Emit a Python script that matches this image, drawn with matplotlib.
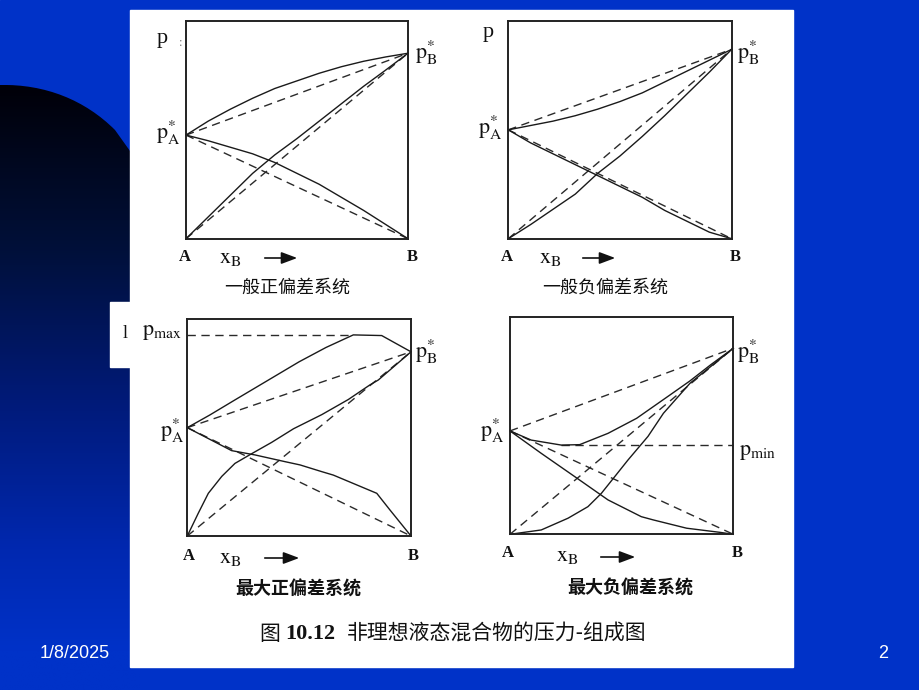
import matplotlib
matplotlib.use('Agg')
import matplotlib.pyplot as plt
import numpy as np
from matplotlib.path import Path
from matplotlib.patches import PathPatch, Rectangle

plt.rcParams['mathtext.fontset'] = 'stix'
plt.rcParams['font.family'] = ['Liberation Serif', 'Noto Sans CJK SC', 'DejaVu Sans']

W, H = 920, 690

# ---------------- data (composition x_B 0..1, pressure 0..1) ----------------
x_grid = [0.0, 0.1, 0.2, 0.3, 0.4, 0.5, 0.6, 0.7, 0.8, 0.9, 1.0]

# Panel 1: 一般正偏差系统
p1_pA, p1_pB = 0.476, 0.852
p1_total = [0.476, 0.54, 0.595, 0.645, 0.69, 0.725, 0.76, 0.79, 0.815, 0.835, 0.852]
p1_partA = [0.476, 0.45, 0.42, 0.39, 0.35, 0.30, 0.25, 0.19, 0.13, 0.065, 0.0]
p1_partB = [0.0, 0.10, 0.20, 0.30, 0.385, 0.46, 0.54, 0.62, 0.70, 0.775, 0.852]

# Panel 2: 一般负偏差系统
p2_pA, p2_pB = 0.50, 0.87
p2_total = [0.50, 0.52, 0.54, 0.565, 0.595, 0.63, 0.67, 0.72, 0.77, 0.82, 0.87]
p2_partA = [0.50, 0.44, 0.39, 0.34, 0.29, 0.24, 0.19, 0.13, 0.08, 0.03, 0.0]
p2_partB = [0.0, 0.065, 0.135, 0.205, 0.30, 0.38, 0.47, 0.565, 0.665, 0.765, 0.87]

# Panel 3: 最大正偏差系统
p3_pA, p3_pB, p3_pmax = 0.50, 0.85, 0.928
p3_upper_x = [0.0, 0.1, 0.213, 0.35, 0.5, 0.62, 0.742, 0.869, 1.0]
p3_upper_y = [0.50, 0.558, 0.628, 0.712, 0.804, 0.87, 0.928, 0.925, 0.85]
p3_rise_x = [0.0, 0.049, 0.094, 0.154, 0.213, 0.288, 0.377, 0.475, 0.601, 0.72, 0.816, 0.854, 1.0]
p3_rise_y = [0.0, 0.105, 0.197, 0.275, 0.335, 0.38, 0.432, 0.495, 0.56, 0.63, 0.697, 0.72, 0.85]
p3_fall_x = [0.0, 0.198, 0.303, 0.437, 0.504, 0.601, 0.653, 0.847, 0.906, 1.0]
p3_fall_y = [0.50, 0.394, 0.374, 0.343, 0.328, 0.297, 0.281, 0.197, 0.12, 0.0]
p3_pmax_end = 0.742

# Panel 4: 最大负偏差系统
p4_pA, p4_pB, p4_pmin = 0.475, 0.855, 0.412
p4_total_x = [0.0, 0.095, 0.23, 0.312, 0.439, 0.567, 0.716, 0.806, 0.9, 1.0]
p4_total_y = [0.475, 0.433, 0.41, 0.412, 0.464, 0.533, 0.64, 0.705, 0.78, 0.855]
p4_partA_x = [0.0, 0.14, 0.29, 0.439, 0.588, 0.642, 0.791, 0.94, 1.0]
p4_partA_y = [0.475, 0.372, 0.265, 0.158, 0.081, 0.066, 0.028, 0.009, 0.0]
p4_partB_x = [0.0, 0.14, 0.26, 0.349, 0.409, 0.469, 0.528, 0.618, 0.687, 0.806, 1.0]
p4_partB_y = [0.0, 0.02, 0.074, 0.127, 0.188, 0.265, 0.341, 0.45, 0.556, 0.694, 0.855]
p4_pmin_start = 0.23

captions = ['一般正偏差系统', '一般负偏差系统', '最大正偏差系统', '最大负偏差系统']
title_prefix = '图'
title_num = '10.12'
title_text = '非理想液态混合物的压力-组成图'
footer_date = '1/8/2025'
footer_page = '2'

# ---------------- figure & background ----------------
fig = plt.figure(figsize=(W / 100, H / 100), dpi=100)
bg = fig.add_axes([0, 0, 1, 1])
bg.set_xlim(0, W)
bg.set_ylim(H, 0)
bg.axis('off')
blue = '#0032c8'
bg.add_patch(Rectangle((0, 0), W, H, color=blue, zorder=0))

# dark arc with vertical gradient (left decoration)
verts = [(0, 85), (45, 84), (85, 100), (115, 130), (140, 165), (140, 690), (0, 690), (0, 85)]
codes = [Path.MOVETO, Path.CURVE4, Path.CURVE4, Path.CURVE4, Path.LINETO, Path.LINETO, Path.LINETO, Path.CLOSEPOLY]
arc = PathPatch(Path(verts, codes), facecolor='none', edgecolor='none')
bg.add_patch(arc)
stops_y = np.array([85, 250, 400, 550, 650, 690])
stops_c = np.array([[0, 0, 8], [0, 16, 58], [0, 26, 120], [0, 40, 176], [0, 50, 200], [0, 50, 200]]) / 255.0
yy = np.linspace(85, 690, 300)
grad = np.stack([np.interp(yy, stops_y, stops_c[:, k]) for k in range(3)], axis=1)
img = bg.imshow(grad[:, None, :], extent=[0, 140, 690, 85], aspect='auto', zorder=1, interpolation='bilinear')
img.set_clip_path(arc)
bg.set_xlim(0, W)
bg.set_ylim(H, 0)

# white panel
bg.add_patch(Rectangle((130, 10), 663, 657, color='white', zorder=2))
# stray white box at left
bg.add_patch(Rectangle((110, 302), 20, 65, color='white', zorder=2))


def P(x, y):
    return x / W, 1 - y / H


def px_axes(l, t, r, b):
    ax = fig.add_axes([l / W, 1 - b / H, (r - l) / W, (b - t) / H])
    ax.set_xlim(0, 1)
    ax.set_ylim(0, 1)
    ax.set_xticks([])
    ax.set_yticks([])
    ax.patch.set_alpha(0)
    for s in ax.spines.values():
        s.set_linewidth(1.4)
        s.set_color('#222222')
    return ax


solid_kw = dict(color='#1a1a1a', lw=1.0, clip_on=False)
dash_kw = dict(color='#2a2a2a', lw=1.0, ls=(0, (6, 4)), clip_on=False)


def ideal(ax, pA, pB):
    ax.plot([0, 1], [pA, pB], **dash_kw)
    ax.plot([0, 1], [pA, 0], **dash_kw)
    ax.plot([0, 1], [0, pB], **dash_kw)


def ftext(x, y, s, size=15, **kw):
    kw.setdefault('ha', 'center')
    kw.setdefault('va', 'center')
    kw.setdefault('color', '#111111')
    fig.text(*P(x, y), s, fontsize=size, **kw)


def arrow(x0, x1, y):
    fig.add_artist(matplotlib.patches.FancyArrowPatch(P(x0, y), P(x1, y), transform=fig.transFigure,
                                                      arrowstyle='-|>,head_length=0.8,head_width=0.3',
                                                      mutation_scale=12, color='#111111', lw=1.2))


pA_lab = r'$\mathrm{p}_{\mathrm{A}}^{*}$'
pB_lab = r'$\mathrm{p}_{\mathrm{B}}^{*}$'
xB_lab = r'$\mathrm{x}_{\mathrm{B}}$'
AB_kw = dict(family='Liberation Serif', weight='bold')
cap_kw = dict(family=['Noto Sans CJK SC'])

# Panel 1
ax1 = px_axes(186, 21, 408, 238.7)
ideal(ax1, p1_pA, p1_pB)
ax1.plot(x_grid, p1_total, **solid_kw)
ax1.plot(x_grid, p1_partA, **solid_kw)
ax1.plot(x_grid, p1_partB, **solid_kw)
ftext(162, 38, 'p', size=16)
ftext(181, 43, ':', size=9, color='#777777')
ftext(168, 133, pA_lab, size=16)
ftext(426, 53, pB_lab, size=16)
ftext(185, 257, 'A', size=12, **AB_kw)
ftext(412, 257, 'B', size=12, **AB_kw)
ftext(230, 258, xB_lab, size=16)
arrow(262, 300, 258)
ftext(287, 288, captions[0], size=13, **cap_kw)

# Panel 2
ax2 = px_axes(508.3, 21, 731.7, 238.7)
ideal(ax2, p2_pA, p2_pB)
ax2.plot(x_grid, p2_total, **solid_kw)
ax2.plot(x_grid, p2_partA, **solid_kw)
ax2.plot(x_grid, p2_partB, **solid_kw)
ftext(488, 33, 'p', size=16)
ftext(490, 128, pA_lab, size=16)
ftext(748, 53, pB_lab, size=16)
ftext(507, 257, 'A', size=12, **AB_kw)
ftext(735, 257, 'B', size=12, **AB_kw)
ftext(550, 258, xB_lab, size=16)
arrow(580, 618, 258)
ftext(605, 288, captions[1], size=13, **cap_kw)

# Panel 3
ax3 = px_axes(187.3, 319.3, 411, 536)
ideal(ax3, p3_pA, p3_pB)
ax3.plot([0, p3_pmax_end], [p3_pmax, p3_pmax], **dash_kw)
ax3.plot(p3_upper_x, p3_upper_y, **solid_kw)
ax3.plot(p3_rise_x, p3_rise_y, **solid_kw)
ax3.plot(p3_fall_x, p3_fall_y, **solid_kw)
ftext(125, 333, 'l', size=13)
ftext(162, 333, r'$\mathrm{p}_{\mathrm{max}}$', size=16)
ftext(172, 431, pA_lab, size=16)
ftext(426, 352, pB_lab, size=16)
ftext(189, 556, 'A', size=12, **AB_kw)
ftext(413, 556, 'B', size=12, **AB_kw)
ftext(230, 558, xB_lab, size=16)
arrow(262, 302, 558)
ftext(298, 589, captions[2], size=13, weight='bold', **cap_kw)

# Panel 4
ax4 = px_axes(510, 316.7, 733.3, 534.3)
ideal(ax4, p4_pA, p4_pB)
ax4.plot([p4_pmin_start, 1], [p4_pmin, p4_pmin], **dash_kw)
ax4.plot(p4_total_x, p4_total_y, **solid_kw)
ax4.plot(p4_partA_x, p4_partA_y, **solid_kw)
ax4.plot(p4_partB_x, p4_partB_y, **solid_kw)
ftext(492, 431, pA_lab, size=16)
ftext(748, 352, pB_lab, size=16)
ftext(758, 452, r'$\mathrm{p}_{\mathrm{min}}$', size=16)
ftext(508, 553, 'A', size=12, **AB_kw)
ftext(737, 553, 'B', size=12, **AB_kw)
ftext(567, 557, xB_lab, size=16)
arrow(598, 638, 557)
ftext(630, 588, captions[3], size=13, weight='bold', **cap_kw)

# main caption
ftext(270, 634, title_prefix, size=15, **cap_kw)
ftext(285, 634, title_num, size=16, weight='bold', ha='left', family='Liberation Serif')
ftext(347, 634, title_text, size=15, ha='left', **cap_kw)

# footer
fig.text(*P(75, 653), footer_date, fontsize=13, color='white', ha='center', va='center', family='Liberation Sans')
fig.text(*P(883, 653), footer_page, fontsize=13, color='white', ha='center', va='center', family='Liberation Sans')

fig.savefig('out.png', dpi=100)
